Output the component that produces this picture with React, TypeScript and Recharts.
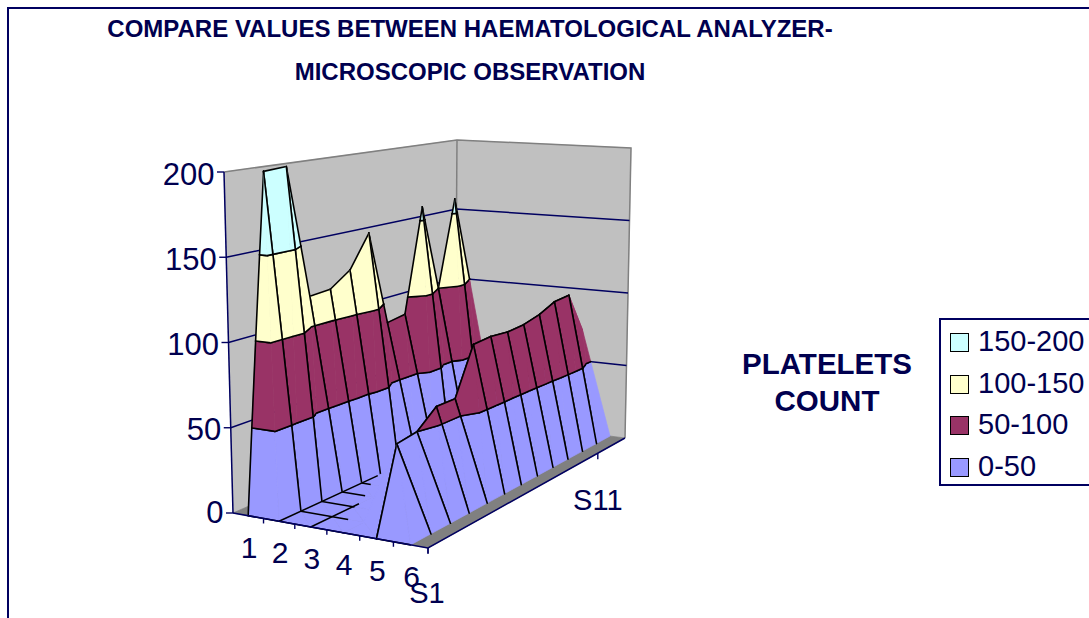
import React from 'react';
import { ScatterChart, Scatter, XAxis, YAxis } from 'recharts';

const W = 1089, H = 618;
const NAVY = '#000060';
const TEXT = '#00004f';
const FONT = '"Liberation Sans", Arial, sans-serif';

// Surface heights: one array per category, one value per series S1..S13
const cat1 = [0, 199, 200, 118, 119, 128, 149, 87, 89, 159, 100, 160, 100];
const cat2 = [0, 0, 0, 0, 0, 0, 0, 0, 0, 0, 0, 0, 0];
const cat3 = [0, 0, 0, 0, 0, 0, 0, 0, 0, 0, 0, 0, 0];
const cat4 = [0, 0, 0, 0, 0, 0, 0, 0, 0, 0, 0, 0, 0];
const cat5 = [0, 48, 50, 60, 60, 89, 90, 89, 90, 93, 98, 99, 72];
const cat6 = [0, 0, 0, 0, 0, 0, 0, 0, 0, 0, 0, 0, 0];
const surface = [cat1, cat2, cat3, cat4, cat5, cat6];

const categories = ['1', '2', '3', '4', '5', '6'];
const valueTicks = [0, 50, 100, 150, 200];
const seriesTicks = [{ label: 'S1', s: 1 }, { label: 'S11', s: 11 }];
const bandLevels = [0, 50, 100, 150, 200];
const bandColors = ['#9999ff', '#993366', '#ffffcc', '#ccffff'];
const legendLabels = ['150-200', '100-150', '50-100', '0-50'];
const legendColors = ['#ccffff', '#ffffcc', '#993366', '#9999ff'];
const titleLines = ['COMPARE VALUES BETWEEN HAEMATOLOGICAL ANALYZER-', 'MICROSCOPIC OBSERVATION'];
const depthTitle = ['PLATELETS', 'COUNT'];
// visible floor-grid spans (where the grid lines stop)
const floorRibs = [{ s: 2, to: 3.5 }, { s: 3, to: 3.05 }, { s: 4, to: 2.75 }, { s: 5, to: 2.3 }];
const floorRows = [{ c: 2, to: 5.85 }, { c: 3, to: 3.3 }];

// ---- projection of the box ----
type P2 = [number, number];
function homography(q: P2[]) {
  const [[x0, y0], [x1, y1], [x2, y2], [x3, y3]] = q;
  const dx1 = x1 - x2, dx2 = x3 - x2, sx = x0 - x1 + x2 - x3;
  const dy1 = y1 - y2, dy2 = y3 - y2, sy = y0 - y1 + y2 - y3;
  const den = dx1 * dy2 - dx2 * dy1;
  const g = (sx * dy2 - dx2 * sy) / den, h = (dx1 * sy - sx * dy1) / den;
  const a = x1 - x0 + g * x1, b = x3 - x0 + h * x3, d = y1 - y0 + g * y1, e = y3 - y0 + h * y3;
  return (u: number, v: number): P2 => {
    const w = g * u + h * v + 1;
    return [(a * u + b * v + x0) / w, (d * u + e * v + y0) / w];
  };
}
const floorH = homography([[233, 513], [428, 548], [625, 438], [455, 416]]);
const topH = homography([[224, 172], [427.5, 185], [631, 148], [457, 140]]);
function project(u: number, v: number, z: number) {
  const f = floorH(u, v), t = topH(u, v), k = z / 200;
  return { x: f[0] + (t[0] - f[0]) * k, y: f[1] + (t[1] - f[1]) * k };
}
const uOf = (c: number) => (c - 0.5) / 6;
const vOf = (s: number) => (s - 1) / 12;

// ---- surface triangles clipped into bands ----
type V = { u: number; v: number; z: number; black: boolean };
function clip(poly: V[], level: number, keepAbove: boolean): V[] {
  const inside = (p: V) => (keepAbove ? p.z >= level : p.z <= level);
  const out: V[] = [];
  poly.forEach((p, i) => {
    const q = poly[(i + 1) % poly.length];
    const a = inside(p), b = inside(q);
    const cut = (black: boolean): V => {
      const t = (level - p.z) / (q.z - p.z);
      return { u: p.u + (q.u - p.u) * t, v: p.v + (q.v - p.v) * t, z: level, black };
    };
    if (a && b) out.push(p);
    else if (a && !b) { out.push(p); out.push(cut(true)); }
    else if (!a && b) out.push(cut(p.black));
  });
  return out;
}
const ribBlack = (c: number, s: number) => (s === 1 ? true : s <= 12 && (c === 1 || c === 5));
const rowBlack = (c: number, s: number) => (c === 1 ? s <= 12 : c === 5 ? s <= 11 : false);
const vert = (c: number, s: number, black: boolean): V => ({ u: uOf(c), v: vOf(s), z: surface[c - 1][s - 1], black });

type Poly = { pts: { x: number; y: number }[]; black: boolean[]; fill: string };
function cellPolys(c: number, s: number): Poly[] {
  const tris: V[][] = [
    [vert(c, s, rowBlack(c, s)), vert(c, s + 1, false), vert(c + 1, s, ribBlack(c, s))],
    [vert(c, s + 1, ribBlack(c, s + 1)), vert(c + 1, s + 1, rowBlack(c + 1, s)), vert(c + 1, s, false)],
  ];
  const res: Poly[] = [];
  tris.forEach((t) => {
    bandColors.forEach((fill, b) => {
      let poly = t;
      if (b > 0) poly = clip(poly, bandLevels[b], true);
      if (poly.length >= 3 && b < bandColors.length - 1) poly = clip(poly, bandLevels[b + 1], false);
      if (poly.length < 3) return;
      const pts = poly.map((p) => project(p.u, p.v, p.z));
      res.push({ pts, black: poly.map((p) => p.black), fill });
    });
  });
  return res;
}

const backPolys: Poly[] = [];
const frontPolys: Poly[] = [];
for (let c = 1; c <= 5; c++) {
  for (let s = 12; s >= 1; s--) (c < 4 ? backPolys : frontPolys).push(...cellPolys(c, s));
}

const noDot = () => <g />;

function polyMark(p: Poly, key: string) {
  const line = (lp: any) => {
    const q: { x: number; y: number }[] = lp.points;
    const d = q.map((a) => `${a.x},${a.y}`).join(' ');
    return (
      <g>
        <polygon points={d} fill={p.fill} stroke={p.fill} strokeWidth={0.7} />
        {q.map((a, i) => {
          if (!p.black[i]) return null;
          const b = q[(i + 1) % q.length];
          return <line key={i} x1={a.x} y1={a.y} x2={b.x} y2={b.y} stroke="#000" strokeWidth={1.6} strokeLinecap="round" />;
        })}
      </g>
    );
  };
  return <Scatter key={key} data={p.pts} line={line} shape={noDot} isAnimationActive={false} legendType="none" />;
}
function fillMark(pts: { x: number; y: number }[], fill: string, key: string) {
  return polyMark({ pts, black: pts.map(() => false), fill }, key);
}
function lineMark(pts: { x: number; y: number }[], stroke: string, width: number, key: string) {
  return (
    <Scatter key={key} data={pts} line={{ stroke, strokeWidth: width }} shape={noDot} isAnimationActive={false} legendType="none" />
  );
}
function textMark(data: { x: number; y: number; label: string; anchor: string; size: number }[], key: string) {
  const shape = (p: any) => (
    <text x={p.cx} y={p.cy} dy="0.36em" textAnchor={p.payload.anchor} fontFamily={FONT} fontSize={p.payload.size} fill={TEXT}>
      {p.payload.label}
    </text>
  );
  return <Scatter key={key} data={data} shape={shape} isAnimationActive={false} legendType="none" />;
}

const A0 = project(0, 0, 0), B0 = project(1, 0, 0), C0 = project(1, 1, 0), D0 = project(0, 1, 0);
const A2 = project(0, 0, 200), C2 = project(1, 1, 200), D2 = project(0, 1, 200);

const wallLevels = valueTicks.filter((v) => v > 0 && v < 200);

const valueLabels = valueTicks.map((v) => {
  const p = project(0, 0, v);
  return { x: p.x - 9.5, y: p.y + (v === 0 ? -1 : 1.5), label: String(v), anchor: 'end', size: 31 };
});
const catLabels = categories.map((label, i) => {
  const p = project(uOf(i + 1), 0, 0);
  return { x: p.x + 1, y: p.y + 31, label, anchor: 'middle', size: 30 };
});
const depthLabels = seriesTicks.map((t) => {
  const p = project(1, vOf(t.s), 0);
  return { x: p.x + (t.s === 1 ? -1 : 0), y: p.y + (t.s === 1 ? 45 : 46), label: t.label, anchor: 'middle', size: 29 };
});

export default function App() {
  const boxes = {
    position: 'absolute' as const,
    fontFamily: FONT,
    color: TEXT,
    whiteSpace: 'nowrap' as const,
  };
  return (
    <div style={{ position: 'absolute', left: 0, top: 0, width: W, height: H, overflow: 'hidden', background: '#fff' }}>
      <div style={{ position: 'absolute', left: 7, top: 7, width: 1200, height: 800, border: `2px solid ${NAVY}`, boxSizing: 'border-box' }} />
      <ScatterChart width={W} height={H} margin={{ top: 0, right: 0, bottom: 0, left: 0 }} style={{ position: 'absolute', left: 0, top: 0 }}>
        <XAxis type="number" dataKey="x" domain={[0, W]} hide allowDataOverflow />
        <YAxis type="number" dataKey="y" domain={[0, H]} reversed hide allowDataOverflow />
        {fillMark([A0, A2, D2, D0], '#c0c0c0', 'wallL')}
        {fillMark([D0, D2, C2, C0], '#c0c0c0', 'wallR')}
        {fillMark([A0, B0, C0, D0], '#808080', 'floor')}
        {lineMark([A2, D2, C2, C0], '#808080', 1.5, 'wallEdge')}
        {lineMark([D2, D0], '#808080', 1.5, 'wallEdgeBack')}
        {wallLevels.map((z) => lineMark([project(0, 0, z), project(0, 1, z), project(1, 1, z)], NAVY, 1.5, `grid${z}`))}
        {backPolys.map((p, i) => polyMark(p, `a${i}`))}
        {floorRows.map((r) => lineMark([project(uOf(r.c), vOf(1), 0), project(uOf(r.c), vOf(r.to), 0)], '#000', 1.5, `row${r.c}`))}
        {floorRibs.map((r) => lineMark([project(uOf(2), vOf(r.s), 0), project(uOf(r.to), vOf(r.s), 0)], '#000', 1.5, `rib${r.s}`))}
        {frontPolys.map((p, i) => polyMark(p, `b${i}`))}
        {lineMark([A2, A0], NAVY, 1.5, 'axisV')}
        {lineMark([A0, B0, C0], NAVY, 1.5, 'axisF')}
        {valueTicks.map((v) => {
          const p = project(0, 0, v);
          return lineMark([p, { x: p.x - 7, y: p.y }], NAVY, 1.4, `vt${v}`);
        })}
        {categories.map((_, i) => {
          const p = project((i + 1) / 6, 0, 0);
          return lineMark([p, { x: p.x, y: p.y + 5 }], NAVY, 1.4, `ct${i}`);
        })}
        {seriesTicks.map((t) => {
          const p = project(1, vOf(t.s), 0);
          return lineMark([p, { x: p.x, y: p.y + 6 }], NAVY, 1.4, `st${t.s}`);
        })}
        {textMark([...valueLabels, ...catLabels, ...depthLabels], 'labels')}
      </ScatterChart>
      {titleLines.map((t, i) => (
        <div key={t} style={{ ...boxes, left: 470, top: 29 + i * 42.5, transform: 'translate(-50%,-50%)', fontWeight: 700, fontSize: 24 }}>{t}</div>
      ))}
      {depthTitle.map((t, i) => (
        <div key={t} style={{ ...boxes, left: 827, top: 364 + i * 37, transform: 'translate(-50%,-50%)', fontWeight: 700, fontSize: 29.5 }}>{t}</div>
      ))}
      <div style={{ position: 'absolute', left: 939, top: 318, width: 200, height: 168, border: `2px solid ${NAVY}`, boxSizing: 'border-box', background: '#fff' }} />
      {legendLabels.map((t, i) => (
        <React.Fragment key={t}>
          <div style={{ position: 'absolute', left: 950, top: 333 + i * 41.7, width: 19, height: 19, boxSizing: 'border-box', border: '1.5px solid #000', background: legendColors[i] }} />
          <div style={{ ...boxes, left: 978, top: 341 + i * 41.7, transform: 'translateY(-50%)', fontSize: 29 }}>{t}</div>
        </React.Fragment>
      ))}
    </div>
  );
}
